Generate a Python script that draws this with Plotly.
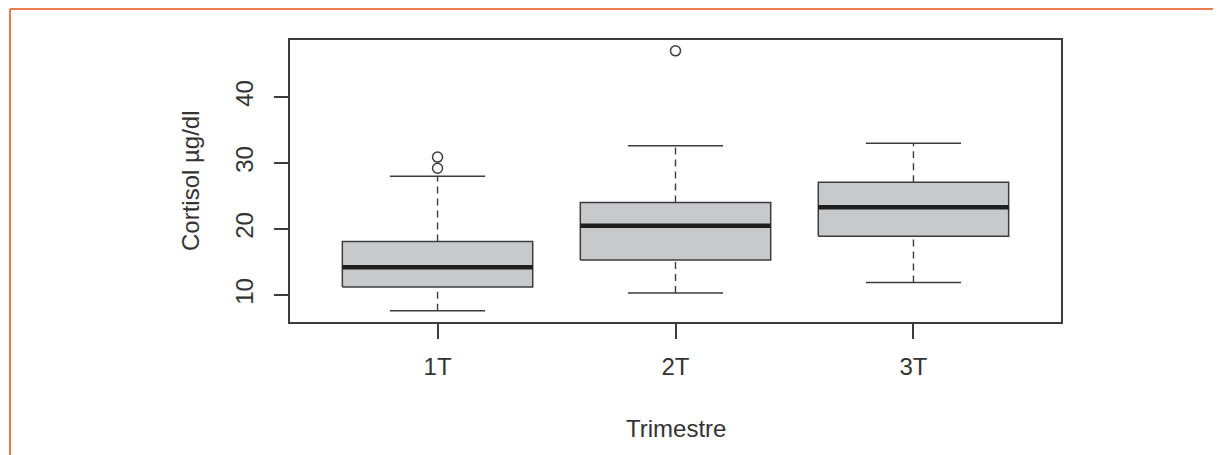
import plotly.graph_objects as go

# ---- data ----
categories = ["1T", "2T", "3T"]
lower_whisker = [7.6, 10.3, 11.9]
q1 = [11.2, 15.3, 18.9]
median = [14.2, 20.5, 23.3]
q3 = [18.1, 24.0, 27.1]
upper_whisker = [28.0, 32.6, 33.0]
outliers = [[29.2, 30.9], [47.0], []]
y_ticks = [10, 20, 30, 40]

# ---- style ----
BOX_HALF = 0.4
CAP_HALF = 0.2
LINE = "#3c3c3c"
FILL = "#c8c9cb"
FONT = "Liberation Sans, Arial, sans-serif"

fig = go.Figure()
positions = list(range(1, len(categories) + 1))

for i, p in enumerate(positions):
    # box body
    fig.add_trace(go.Scatter(
        x=[p - BOX_HALF, p + BOX_HALF, p + BOX_HALF, p - BOX_HALF, p - BOX_HALF],
        y=[q1[i], q1[i], q3[i], q3[i], q1[i]],
        mode="lines", fill="toself", fillcolor=FILL,
        line=dict(color=LINE, width=1.5), hoverinfo="skip", showlegend=False))
    # whiskers (dashed)
    for a, b in ((lower_whisker[i], q1[i]), (q3[i], upper_whisker[i])):
        fig.add_trace(go.Scatter(
            x=[p, p], y=[a, b], mode="lines",
            line=dict(color=LINE, width=1.4, dash="7px,5px"),
            hoverinfo="skip", showlegend=False))
    # caps
    for v in (lower_whisker[i], upper_whisker[i]):
        fig.add_trace(go.Scatter(
            x=[p - CAP_HALF, p + CAP_HALF], y=[v, v], mode="lines",
            line=dict(color=LINE, width=1.5), hoverinfo="skip", showlegend=False))
    # median
    fig.add_trace(go.Scatter(
        x=[p - BOX_HALF, p + BOX_HALF], y=[median[i], median[i]], mode="lines",
        line=dict(color="#1e1e1e", width=4.5), hoverinfo="skip", showlegend=False))
    # outliers
    if outliers[i]:
        fig.add_trace(go.Scatter(
            x=[p] * len(outliers[i]), y=outliers[i], mode="markers",
            marker=dict(symbol="circle-open", size=10, color=LINE, line=dict(width=1.5)),
            hoverinfo="skip", showlegend=False))

fig.update_layout(
    width=1213, height=447,
    margin=dict(l=282, r=160, t=32, b=133),
    paper_bgcolor="white", plot_bgcolor="white",
    font=dict(family=FONT, size=24, color="#333333"),
    showlegend=False,
)

fig.update_xaxes(
    range=[0.38, 3.62], tickmode="array", tickvals=positions, ticktext=categories,
    showgrid=False, zeroline=False, showline=True, mirror=True,
    linecolor=LINE, linewidth=1.5, ticks="outside", ticklen=15, tickwidth=1.5,
    tickcolor=LINE, tickfont=dict(size=24, color="#333333"), ticklabelstandoff=7,
)
fig.update_yaxes(
    range=[5.91, 48.64], tickmode="array", tickvals=y_ticks,
    ticktext=[str(t) for t in y_ticks], tickangle=-90,
    showgrid=False, zeroline=False, showline=True, mirror=True,
    linecolor=LINE, linewidth=1.5, ticks="outside", ticklen=14, tickwidth=1.5,
    tickcolor=LINE, tickfont=dict(size=24, color="#333333"), ticklabelstandoff=12,
)

fig.add_annotation(text="Cortisol µg/dl", xref="paper", yref="paper",
                   x=-0.1297, y=0.5, textangle=-90, showarrow=False,
                   xanchor="center", yanchor="middle",
                   font=dict(size=24, color="#333333"))
fig.add_annotation(text="Trimestre", xref="paper", yref="paper",
                   x=0.5, y=-0.376, showarrow=False,
                   xanchor="center", yanchor="middle",
                   font=dict(size=24, color="#333333"))

# orange page frame (left and top edges)
ORANGE = "#ea7a50"
fig.add_shape(type="line", xref="paper", yref="paper",
              x0=-0.3632, x1=-0.3632, y0=1.1099, y1=-0.6,
              line=dict(color=ORANGE, width=2))
fig.add_shape(type="line", xref="paper", yref="paper",
              x0=-0.3632, x1=1.4, y0=1.1099, y1=1.1099,
              line=dict(color=ORANGE, width=2))

fig.write_html("out.html")
